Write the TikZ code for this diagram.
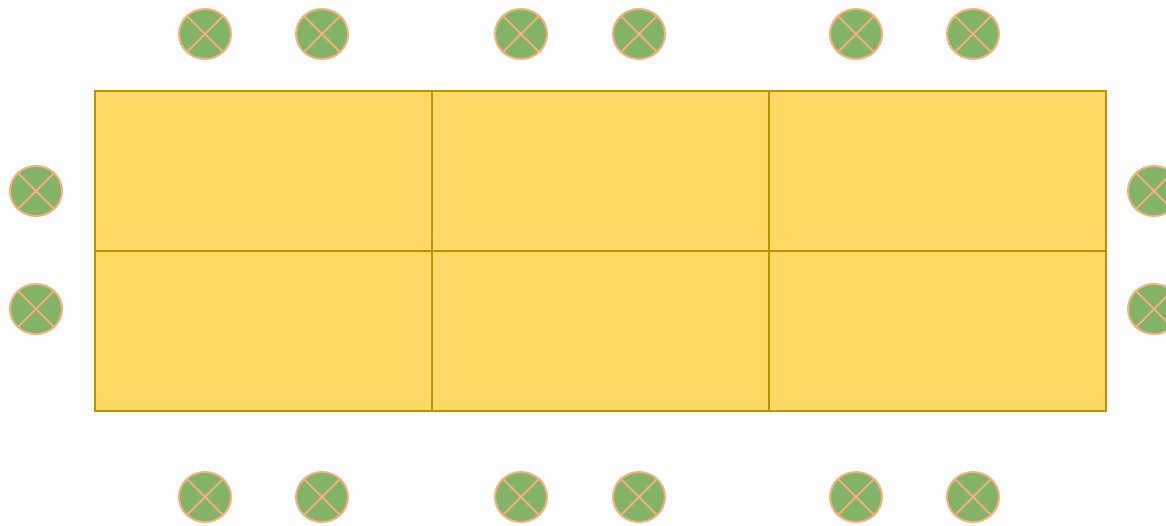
\documentclass[tikz,border=0pt]{standalone}
\usetikzlibrary{shapes.geometric}
\definecolor{tablefill}{HTML}{FFD966}
\definecolor{tableline}{HTML}{BF9000}
\definecolor{seatfill}{HTML}{82B366}
\definecolor{seatline}{HTML}{F5B07F}
\tikzset{
  cell/.style={draw=tableline, fill=tablefill, line width=2.3pt, rectangle, minimum width=337pt, minimum height=160pt, inner sep=0pt, anchor=north west},
  seat/.style={draw=seatline, fill=seatfill, line width=2pt, ellipse, minimum width=52pt, minimum height=50pt, inner sep=0pt},
  cross/.style={draw=seatline, line width=2pt}
}
\begin{document}
\begin{tikzpicture}[x=1pt,y=-1pt]
\useasboundingbox (0,0) rectangle (1166,525);
\node[cell] (c11) at (93.5,90) {};
\node[cell] (c12) at (430.5,90) {};
\node[cell] (c13) at (767.5,90) {};
\node[cell] (c21) at (93.5,250) {};
\node[cell] (c22) at (430.5,250) {};
\node[cell] (c23) at (767.5,250) {};
\foreach \n/\x/\y in {t1/205/34, t2/322/34, t3/521/34, t4/639/34, t5/856/34, t6/973/34,
                      b1/205/497, b2/322/497, b3/521/497, b4/639/497, b5/856/497, b6/973/497,
                      l1/36/191, l2/36/309, r1/1154/191, r2/1154/309} {
  \node[seat] (\n) at (\x,\y) {};
  \draw[cross] (\n.45) -- (\n.225) (\n.135) -- (\n.315);
}
\end{tikzpicture}
\end{document}
